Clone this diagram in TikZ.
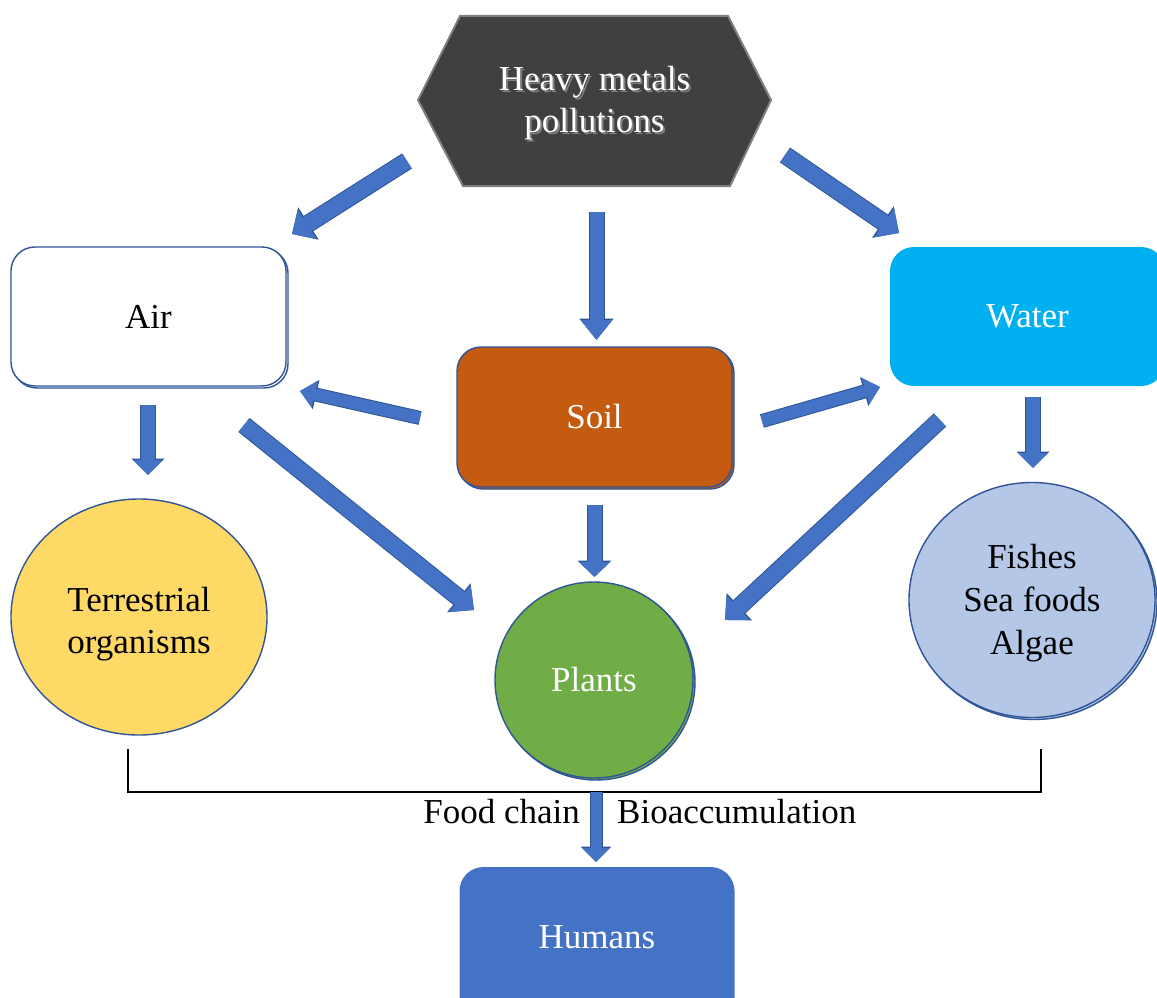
\documentclass[tikz,border=0pt]{standalone}
\usepackage{fontspec}
\setmainfont{Liberation Serif}
\usetikzlibrary{shapes.geometric,arrows.meta,shadows}
\definecolor{hexfill}{HTML}{404040}
\definecolor{hexline}{HTML}{7F7F7F}
\definecolor{arrfill}{HTML}{4472C4}
\definecolor{bdr}{HTML}{2F5597}
\definecolor{waterc}{HTML}{00B0F0}
\definecolor{soilc}{HTML}{C55A11}
\definecolor{terrc}{HTML}{FFD966}
\definecolor{plantc}{HTML}{70AD47}
\definecolor{fishc}{HTML}{B4C7E7}
\definecolor{humanc}{HTML}{4472C4}
\tikzset{
  txt/.style={font=\fontsize{35}{42}\selectfont, align=center, inner sep=0pt},
  boxshape/.style={rectangle, rounded corners=24pt, minimum width=275pt, minimum height=139pt, line width=1.4pt},
  ovalshape/.style={ellipse, inner sep=0pt, line width=1.4pt},
  dupl/.style={copy shadow={shadow xshift=2pt, shadow yshift=-2pt}},
  barrow/.style n args={3}{
    preaction={draw=bdr, line width=#1+2pt, -{Triangle[width=#2+3pt, length=#3+1.5pt]}},
    draw=arrfill, line width=#1, -{Triangle[width=#2, length=#3]}},
}
\begin{document}
\begin{tikzpicture}[x=1pt,y=-1pt]
\clip (0,0) rectangle (1157,998);
\fill[white] (0,0) rectangle (1157,998);

% hexagon
\draw[fill=hexfill, draw=hexline, line width=2pt] (460,16) -- (728,16) -- (771,100) -- (730,186) -- (463,186) -- (418,100) -- cycle;
\node[txt, text=gray] (hexsh) at (596.5,105) {Heavy metals\\pollutions};
\node[txt, text=white] (hex) at (594.5,103) {Heavy metals\\pollutions};

% boxes
\node[boxshape, draw=bdr, fill=white, dupl] (air) at (148.5,316.5) {};
\node[txt] at (air.center) {Air};
\node[boxshape, fill=waterc] (water) at (1027.5,316.5) {};
\node[txt, text=white] at (water.center) {Water};
\node[boxshape, minimum height=140pt, draw=bdr, fill=soilc, dupl] (soil) at (594.5,417) {};
\node[txt, text=white] at (soil.center) {Soil};
\node[boxshape, minimum height=170pt, fill=humanc] (humans) at (597,952) {};
\node[txt, text=white] at (597,937) {Humans};

% ovals
\node[ovalshape, minimum width=256pt, minimum height=236pt, draw=bdr, fill=terrc] (terr) at (139,617) {};
\node[txt] at (139,624) {Terrestrial\\organisms};
\node[ovalshape, minimum width=198pt, minimum height=196pt, draw=bdr, fill=plantc, dupl] (plants) at (594,680) {};
\node[txt, text=white] at (plants.center) {Plants};
\node[ovalshape, minimum width=246pt, minimum height=235pt, draw=bdr, fill=fishc, dupl] (fish) at (1032,600) {};
\node[txt, font=\fontsize{35}{43}\selectfont] at (1032,603) {Fishes\\Sea foods\\Algae};

% arrow end points
\coordinate (h2a0) at (407,161); \coordinate (h2a1) at (292,234);
\coordinate (h2s0) at (596.5,212); \coordinate (h2s1) at (596.5,340);
\coordinate (h2w0) at (785,155); \coordinate (h2w1) at (899,233);
\coordinate (s2a0) at (420,418); \coordinate (s2a1) at (300,391);
\coordinate (s2w0) at (762,421); \coordinate (s2w1) at (880,387);
\coordinate (a2t0) at (148,405); \coordinate (a2t1) at (148,475);
\coordinate (a2p0) at (244,425); \coordinate (a2p1) at (474,610);
\coordinate (s2p0) at (594.5,505); \coordinate (s2p1) at (594.5,577);
\coordinate (w2p0) at (940,420); \coordinate (w2p1) at (725,620);
\coordinate (w2f0) at (1033,397); \coordinate (w2f1) at (1033,468);

\draw[barrow={16pt}{34pt}{18pt}] (h2a0) -- (h2a1);
\draw[barrow={14pt}{30pt}{20pt}] (h2s0) -- (h2s1);
\draw[barrow={16pt}{34pt}{18pt}] (h2w0) -- (h2w1);
\draw[barrow={12pt}{26pt}{15pt}] (s2a0) -- (s2a1);
\draw[barrow={12pt}{26pt}{15pt}] (s2w0) -- (s2w1);
\draw[barrow={14pt}{29pt}{15pt}] (a2t0) -- (a2t1);
\draw[barrow={16pt}{33pt}{18pt}] (a2p0) -- (a2p1);
\draw[barrow={14pt}{30pt}{15pt}] (s2p0) -- (s2p1);
\draw[barrow={16pt}{33pt}{18pt}] (w2p0) -- (w2p1);
\draw[barrow={14pt}{29pt}{15pt}] (w2f0) -- (w2f1);

% bracket
\coordinate (bkl) at (128,749);
\coordinate (bkr) at (1041,749);
\coordinate (bkm) at (596,792);
\coordinate (hum1) at (596,862);
\draw[line width=2.5pt, black] (bkl) -- (bkl |- bkm) -- (bkr |- bkm) -- (bkr);
\draw[barrow={11pt}{27pt}{14pt}] (bkm) -- (hum1);
\node[txt, anchor=base east] (fc) at (580,823) {Food chain};
\node[txt, anchor=base west] (bio) at (617,823) {Bioaccumulation};
\end{tikzpicture}
\end{document}
